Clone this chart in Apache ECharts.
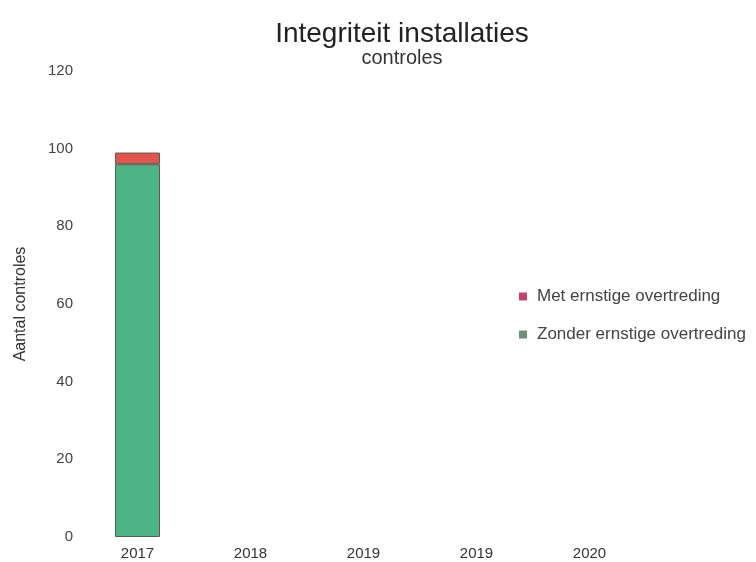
<!DOCTYPE html>
<html><head><meta charset="utf-8">
<script src="https://cdn.jsdelivr.net/npm/echarts@6/dist/echarts.min.js"></script>
<style>html,body{margin:0;padding:0;background:#fff}#c{width:756px;height:562px}</style>
</head><body><div id="c"></div>
<script>
const categories = ['2017', '2018', '2019', '2019', '2020'];
const zonderValues = [96, 0, 0, 0, 0];
const metValues = [3, 0, 0, 0, 0];
const seriesNames = ['Met ernstige overtreding', 'Zonder ernstige overtreding'];

const chart = echarts.init(document.getElementById('c'), null, {renderer: 'canvas'});
const font = 'Liberation Sans, Arial, sans-serif';
const noZeroBorder = arr => arr.map(v => v === 0 ? {value: v, itemStyle: {borderWidth: 0}} : v);
chart.setOption({
  backgroundColor: '#fff',
  animation: false,
  title: {
    text: 'Integriteit installaties',
    subtext: 'controles',
    left: 397, textAlign: 'center', top: 15,
    itemGap: 0,
    textStyle: {fontFamily: font, fontSize: 28, fontWeight: 'normal', color: '#222'},
    subtextStyle: {fontFamily: font, fontSize: 20, color: '#333'}
  },
  legend: {
    orient: 'vertical', left: 514, top: 283, itemGap: 21,
    itemWidth: 8, itemHeight: 8, icon: 'rect',
    textStyle: {fontFamily: font, fontSize: 17, color: '#444', padding: [0, 0, 0, 5]},
    data: [
      {name: seriesNames[0], itemStyle: {color: '#c9406a', borderWidth: 0}},
      {name: seriesNames[1], itemStyle: {color: '#6b8f7a', borderWidth: 0}}
    ]
  },
  grid: {left: 81, right: 110, top: 71, bottom: 25, containLabel: false},
  xAxis: {
    type: 'category', data: categories,
    axisLine: {show: false}, axisTick: {show: false},
    axisLabel: {fontFamily: font, fontSize: 15, color: '#333', margin: 9, interval: 0}
  },
  yAxis: {
    type: 'value', min: 0, max: 120, interval: 20,
    name: 'Aantal controles', nameLocation: 'middle', nameGap: 52,
    nameTextStyle: {fontFamily: font, fontSize: 16, color: '#333'},
    axisLine: {show: false}, axisTick: {show: false}, splitLine: {show: false},
    axisLabel: {fontFamily: font, fontSize: 15, color: '#444', margin: 8}
  },
  series: [
    {name: seriesNames[1], type: 'bar', stack: 's', data: noZeroBorder(zonderValues), barWidth: 45,
     itemStyle: {color: '#4db585', borderColor: '#5a5a5a', borderWidth: 1}},
    {name: seriesNames[0], type: 'bar', stack: 's', data: noZeroBorder(metValues), barWidth: 45,
     itemStyle: {color: '#e2564a', borderColor: '#5a5a5a', borderWidth: 1}}
  ]
});
</script></body></html>
